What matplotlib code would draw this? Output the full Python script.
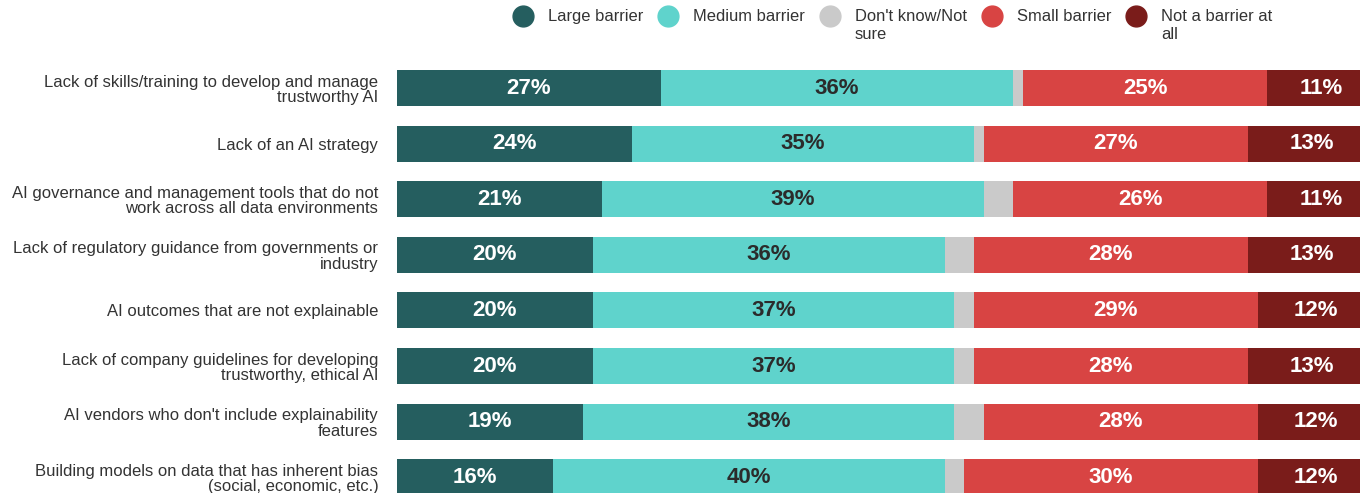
import matplotlib
matplotlib.use("Agg")
import matplotlib.pyplot as plt
from matplotlib.lines import Line2D
import numpy as np

plt.rcParams['font.family'] = ['Liberation Sans', 'DejaVu Sans']

categories = [
    "Lack of skills/training to develop and manage\ntrustworthy AI",
    "Lack of an AI strategy",
    "AI governance and management tools that do not\nwork across all data environments",
    "Lack of regulatory guidance from governments or\nindustry",
    "AI outcomes that are not explainable",
    "Lack of company guidelines for developing\ntrustworthy, ethical AI",
    "AI vendors who don't include explainability\nfeatures",
    "Building models on data that has inherent bias\n(social, economic, etc.)",
]

large = [27, 24, 21, 20, 20, 20, 19, 16]
medium = [36, 35, 39, 36, 37, 37, 38, 40]
small = [25, 27, 26, 28, 29, 28, 28, 30]
not_barrier = [11, 13, 11, 13, 12, 13, 12, 12]
# whatever is left up to 100% went to "don't know"
dont_know = [100 - (a + b + c + d) for a, b, c, d in zip(large, medium, small, not_barrier)]

series_names = ["Large barrier", "Medium barrier", "Don't know/Not\nsure",
                "Small barrier", "Not a barrier at\nall"]
colors = ["#255e5f", "#5fd3cc", "#cacaca", "#d84443", "#7a1c1a"]
label_colors = ["white", "#2b2b2b", None, "white", "white"]

series = [large, medium, dont_know, small, not_barrier]

fig = plt.figure(figsize=(13.6, 4.93), dpi=100)
ax = fig.add_axes([397 / 1360, 0, 978 / 1360, 1])

y = np.arange(len(categories))
left = np.zeros(len(categories))
for vals, col, lcol in zip(series, colors, label_colors):
    vals = np.array(vals, dtype=float)
    ax.barh(y, vals, left=left, height=0.65, color=col, edgecolor='none')
    if lcol is not None:
        for yi, (l, v) in enumerate(zip(left, vals)):
            ax.text(l + v / 2, yi, f"{int(v)}%", ha='center', va='center',
                    color=lcol, fontsize=16, fontweight='bold')
    left += vals

ax.set_xlim(0, 100)
ax.set_ylim(7.284, -1.583)
ax.set_yticks(y)
ax.set_yticklabels(categories, fontsize=12, color="#333333")
for lbl in ax.get_yticklabels():
    lbl.set_linespacing(1.05)
ax.tick_params(axis='y', length=0, pad=13.5)
ax.tick_params(axis='x', bottom=False, labelbottom=False)
for s in ax.spines.values():
    s.set_visible(False)

# legend row drawn by hand so the dots sit on the first text line
renderer = fig.canvas.get_renderer()
x = 523
ypix = 16
for name, col in zip(series_names, colors):
    fig.add_artist(Line2D([x / 1360], [1 - ypix / 493], marker='o', markersize=15,
                          color=col, linestyle='none', transform=fig.transFigure))
    t = fig.text((x + 25) / 1360, 1 - (ypix - 7) / 493, name, fontsize=11.9,
                 color="#333333", ha='left', va='top', linespacing=1.25)
    bb = t.get_window_extent(renderer)
    x = bb.x1 + 25

fig.savefig("out.png", dpi=100)
